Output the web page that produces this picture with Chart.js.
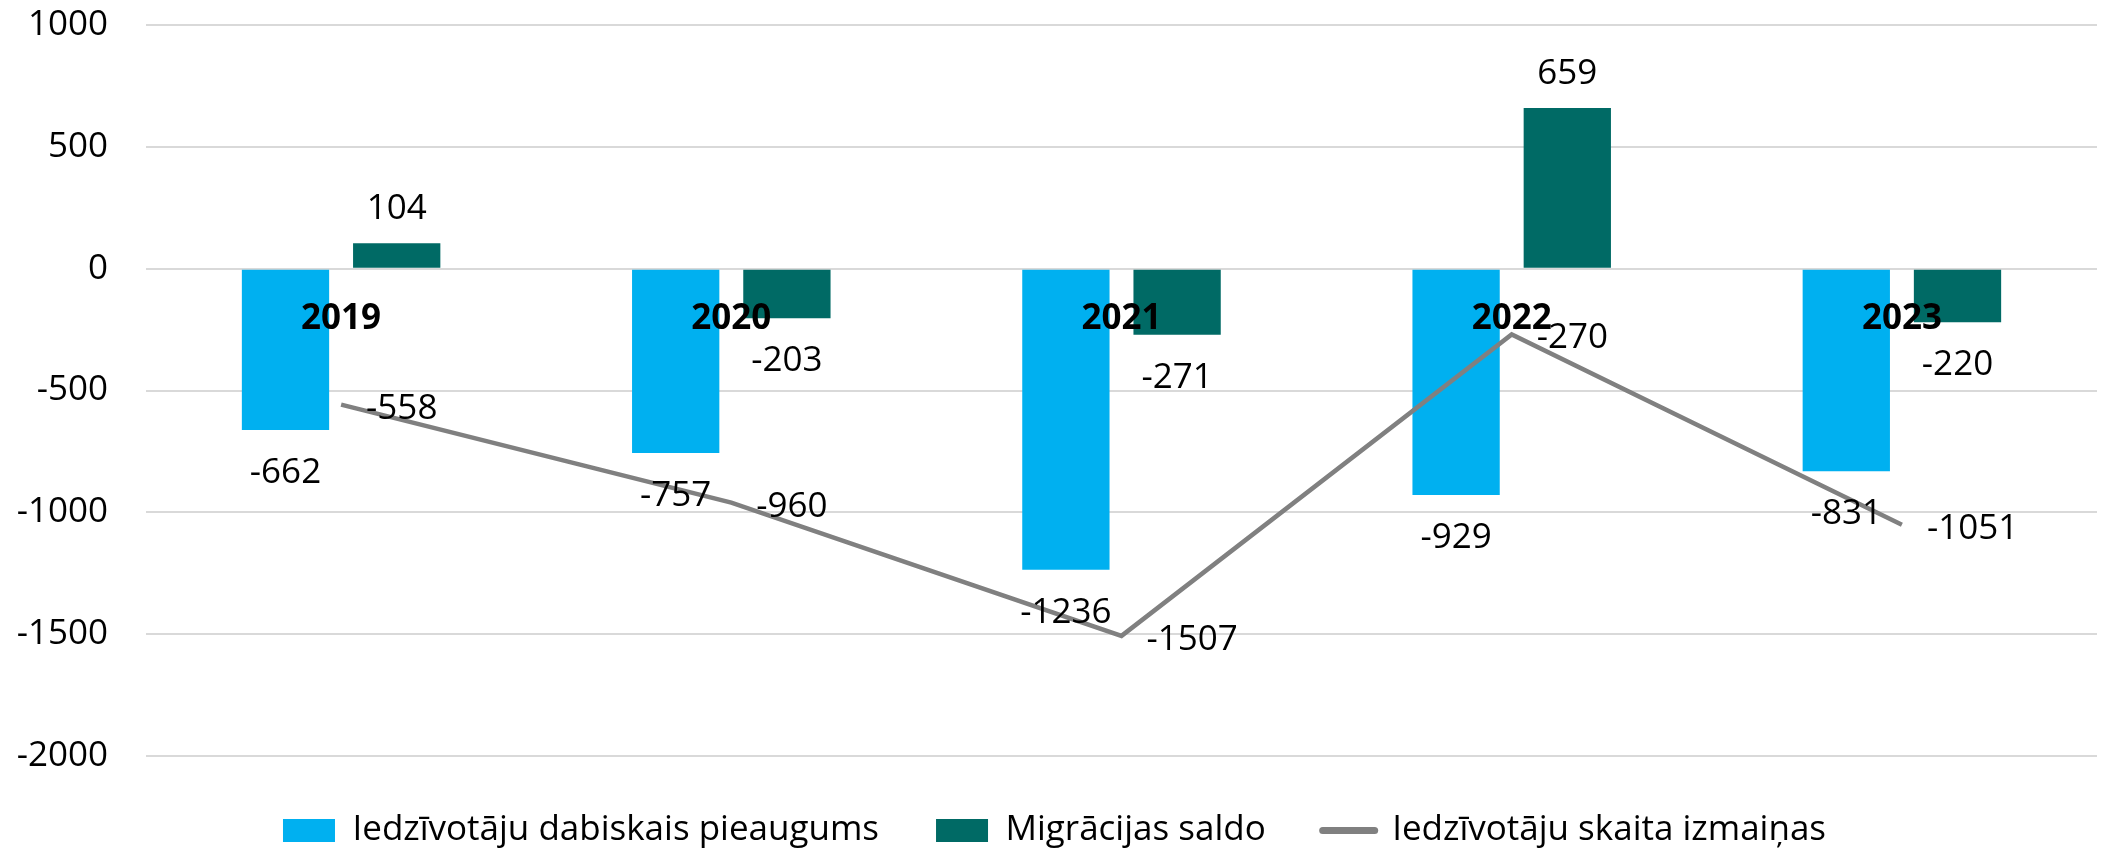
<!DOCTYPE html>
<html>
<head>
<meta charset="utf-8">
<script src="https://cdn.jsdelivr.net/npm/chart.js@4"></script>
<style>
  html, body { margin: 0; padding: 0; background: #fff; }
  #wrap { width: 2108px; height: 849px; }
</style>
</head>
<body>
<div id="wrap"><canvas id="myChart"></canvas></div>
<script>
var years = ['2019', '2020', '2021', '2022', '2023'];
var dabiskais = [-662, -757, -1236, -929, -831];
var migracija = [104, -203, -271, 659, -220];
var izmainas = [-558, -960, -1507, -270, -1051];
var yTicks = [1000, 500, 0, -500, -1000, -1500, -2000];

var fontFam = "'Open Sans', 'Noto Sans', sans-serif";

// etiketes pie stabiņiem, līnijas punktiem un gadi pie nulles ass
var labelsPlugin = {
    id: 'valueLabels',
    afterDatasetsDraw: function (chart) {
        var ctx = chart.ctx;
        var xs = chart.scales.x, ys = chart.scales.y;
        ctx.save();
        ctx.fillStyle = '#000';
        ctx.textBaseline = 'middle';
        ctx.font = '35px ' + fontFam;
        chart.data.datasets.forEach(function (ds, i) {
            var meta = chart.getDatasetMeta(i);
            meta.data.forEach(function (el, j) {
                var v = ds.data[j];
                if (ds.type === 'line') {
                    ctx.textAlign = 'left';
                    ctx.fillText(String(v), el.x + 25, el.y + 4);
                } else {
                    ctx.textAlign = 'center';
                    var y = v >= 0 ? el.y - 34 : el.y + 43;
                    ctx.fillText(String(v), el.x, y);
                }
            });
        });
        // gadu etiķetes virs stabiņiem
        ctx.font = 'bold 35px ' + fontFam;
        ctx.textAlign = 'center';
        var y0 = ys.getPixelForValue(0);
        chart.data.labels.forEach(function (lab, j) {
            ctx.fillText(lab, xs.getPixelForTick(j), y0 + 50);
        });
        ctx.restore();
    }
};

var ctx = document.getElementById('myChart').getContext('2d');
var chart = new Chart(ctx, {
    type: 'bar',
    data: {
        labels: years,
        datasets: [{
            label: 'Iedzīvotāju dabiskais pieaugums',
            data: dabiskais,
            backgroundColor: '#00B0F0',
            categoryPercentage: 0.57,
            barPercentage: 0.785,
            order: 2
        }, {
            label: 'Migrācijas saldo',
            data: migracija,
            backgroundColor: '#006A65',
            categoryPercentage: 0.57,
            barPercentage: 0.785,
            order: 2
        }, {
            type: 'line',
            label: 'Iedzīvotāju skaita izmaiņas',
            data: izmainas,
            borderColor: '#808080',
            backgroundColor: '#808080',
            borderWidth: 4.5,
            pointRadius: 0,
            tension: 0,
            order: 1
        }]
    },
    options: {
        responsive: true,
        maintainAspectRatio: false,
        animation: false,
        layout: { padding: { left: 12, right: 11, top: 25, bottom: -9 } },
        plugins: {
            tooltip: { enabled: false },
            legend: {
                position: 'bottom',
                labels: {
                    color: '#000',
                    font: { family: fontFam, size: 35 },
                    usePointStyle: true,
                    pointStyleWidth: 52,
                    boxHeight: 23,
                    padding: 57,
                    generateLabels: function (chart) {
                        return chart.data.datasets.map(function (ds, i) {
                            var isLine = ds.type === 'line';
                            return {
                                text: ds.label,
                                fillStyle: ds.backgroundColor,
                                strokeStyle: isLine ? ds.borderColor : ds.backgroundColor,
                                lineWidth: isLine ? 7 : 0,
                                lineCap: 'round',
                                pointStyle: isLine ? 'line' : 'rect',
                                datasetIndex: i,
                                fontColor: '#000'
                            };
                        });
                    }
                }
            }
        },
        scales: {
            x: {
                display: false
            },
            y: {
                min: -2000,
                max: 1000,
                afterBuildTicks: function (axis) {
                    axis.ticks = yTicks.map(function (v) { return { value: v }; });
                },
                afterFit: function (axis) {
                    axis.width = 134;
                    axis.paddingTop = 0;
                    axis.paddingBottom = 0;
                },
                grid: { color: '#D9D9D9', lineWidth: 2, drawTicks: false },
                border: { display: false },
                ticks: {
                    color: '#000',
                    padding: 38,
                    font: { family: fontFam, size: 35 },
                    callback: function (v) { return String(v); }
                }
            }
        }
    },
    plugins: [labelsPlugin]
});
</script>
</body>
</html>
